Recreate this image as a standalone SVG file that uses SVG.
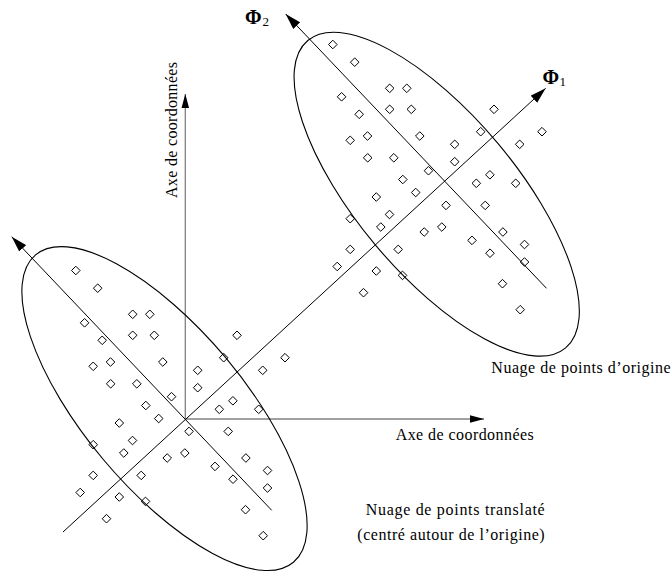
<svg xmlns="http://www.w3.org/2000/svg" width="672" height="572" viewBox="0 0 672 572">
<style>
.ln{fill:none;stroke:#000;stroke-width:1}
.ax{fill:none;stroke:#808080;stroke-width:1.3}
.el{fill:none;stroke:#000;stroke-width:1.1}
.pt{fill:none;stroke:#000;stroke-width:1}
.lbl{font-family:"Liberation Serif","Times New Roman",serif;font-size:16px;fill:#000}
.phi{font-family:"Liberation Serif","Times New Roman",serif;font-size:20px;font-weight:bold;fill:#000}
.sub{font-family:"Liberation Serif","Times New Roman",serif;font-size:13px;fill:#000}
</style>
<defs>
<marker id="big" markerUnits="userSpaceOnUse" markerWidth="16" markerHeight="10" viewBox="0 0 15 9" refX="15" refY="4.5" orient="auto"><path d="M0,0 L15,4.5 L0,9 Z" fill="#000"/></marker>
<marker id="small" markerUnits="userSpaceOnUse" markerWidth="14" markerHeight="8" viewBox="0 0 13 7" refX="13" refY="3.5" orient="auto"><path d="M0,0 L13,3.5 L0,7 Z" fill="#000"/></marker>
<path id="d" d="M0,-4.3 L4.3,0 L0,4.3 L-4.3,0 Z"/>
<g id="pts" class="pt">
<use href="#d" x="332.8" y="44.5"/><use href="#d" x="354.7" y="62.2"/><use href="#d" x="389.7" y="88.3"/><use href="#d" x="406.8" y="88.3"/>
<use href="#d" x="341.6" y="96.8"/><use href="#d" x="389.7" y="109.3"/><use href="#d" x="411.3" y="109.3"/><use href="#d" x="359.2" y="114.3"/>
<use href="#d" x="367.5" y="136"/><use href="#d" x="350.2" y="140.3"/><use href="#d" x="419.8" y="136"/><use href="#d" x="367.7" y="157.8"/>
<use href="#d" x="393.8" y="157.8"/><use href="#d" x="428.5" y="170.7"/><use href="#d" x="402.8" y="179.5"/><use href="#d" x="415.7" y="192.5"/>
<use href="#d" x="494" y="109.3"/><use href="#d" x="480.7" y="131.7"/><use href="#d" x="542" y="131.7"/><use href="#d" x="454.7" y="144.3"/>
<use href="#d" x="519.7" y="144.3"/><use href="#d" x="454.7" y="161.7"/><use href="#d" x="489.9" y="174.8"/><use href="#d" x="476.3" y="183.3"/>
<use href="#d" x="515.7" y="183.3"/><use href="#d" x="376.3" y="197"/><use href="#d" x="446" y="205.4"/><use href="#d" x="389.5" y="214.5"/>
<use href="#d" x="350.2" y="218.7"/><use href="#d" x="380.8" y="227"/><use href="#d" x="424.2" y="232"/><use href="#d" x="441.8" y="227"/>
<use href="#d" x="472" y="240.4"/><use href="#d" x="350.2" y="249.4"/><use href="#d" x="398.2" y="249.4"/><use href="#d" x="337.2" y="266.5"/>
<use href="#d" x="376.3" y="271"/><use href="#d" x="402.5" y="275.4"/><use href="#d" x="363.5" y="292.7"/><use href="#d" x="485.2" y="205.4"/>
<use href="#d" x="502.9" y="232"/><use href="#d" x="524.5" y="244.5"/><use href="#d" x="490" y="253.2"/><use href="#d" x="524.5" y="262"/>
<use href="#d" x="502.5" y="283.7"/><use href="#d" x="520.2" y="309.7"/>
</g>
</defs>

<g id="coordinate-axes">
<line class="ax" x1="185.3" y1="419" x2="185.3" y2="94" marker-end="url(#small)"/>
<line class="ax" x1="185.3" y1="419" x2="484" y2="419" marker-end="url(#small)"/>
<text class="lbl" transform="translate(177,198) rotate(-90)" textLength="136" lengthAdjust="spacing">Axe de coordonnées</text>
<text class="lbl" x="395.7" y="440" textLength="138" lengthAdjust="spacing">Axe de coordonnées</text>
</g>

<g id="connectors">
<line id="phi1-axis" class="ln" x1="63" y1="532" x2="545.7" y2="88.3" marker-end="url(#big)"/>
<line id="phi2-axis" class="ln" x1="546.5" y1="288.3" x2="285.7" y2="14" marker-end="url(#big)"/>
<line id="phi2-translated-axis" class="ln" x1="271.7" y1="510.3" x2="11.7" y2="236.7" marker-end="url(#big)"/>
</g>

<g id="phi-labels">
<text class="phi" x="245" y="23.5">Φ</text><text class="sub" x="262.5" y="25.5">2</text>
<text class="phi" x="542.5" y="83.5">Φ</text><text class="sub" x="559.5" y="86">1</text>
</g>

<g id="cloud-original">
<ellipse class="el" cx="0" cy="0" rx="200.6" ry="79.6" transform="translate(436.7,194.2) rotate(50)"/>
<use href="#pts"/>
<text class="lbl" x="491.3" y="373.3" textLength="179.4" lengthAdjust="spacing">Nuage de points d’origine</text>
</g>

<g id="cloud-translated">
<ellipse class="el" cx="0" cy="0" rx="200.6" ry="79.6" transform="translate(164.5,408.6) rotate(50)"/>
<use href="#pts" transform="translate(-257,226)"/>
<text class="lbl" x="365.7" y="515" textLength="179" lengthAdjust="spacing">Nuage de points translaté</text>
<text class="lbl" x="357.3" y="540" textLength="187.4" lengthAdjust="spacing">(centré autour de l’origine)</text>
</g>
</svg>
